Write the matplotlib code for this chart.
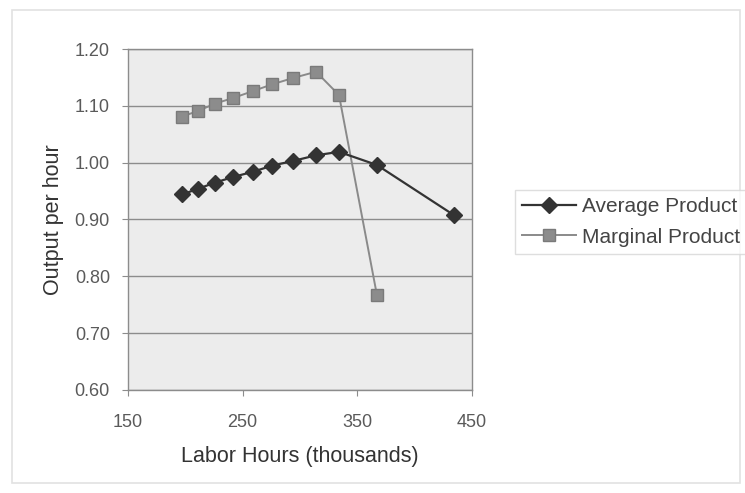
import matplotlib.pyplot as plt
from matplotlib.patches import Rectangle

# labor hours (thousands) and output per hour
hours = [197, 211, 226, 242, 259, 276, 294, 314, 334, 367, 434]
avg_product = [0.944, 0.954, 0.965, 0.975, 0.984, 0.995, 1.003, 1.013, 1.019, 0.996, 0.908]
marg_hours = [197, 211, 226, 242, 259, 276, 294, 314, 334, 367]
marg_product = [1.081, 1.091, 1.104, 1.114, 1.126, 1.138, 1.149, 1.160, 1.119, 0.768]

x_ticks = [150, 250, 350, 450]
y_ticks = [0.60, 0.70, 0.80, 0.90, 1.00, 1.10, 1.20]

plt.rcParams["font.family"] = ["Liberation Sans", "DejaVu Sans"]

fig = plt.figure(figsize=(7.45, 4.93), dpi=100)
fig.patch.set_facecolor("white")
# faint chart border
fig.patches.append(Rectangle((12 / 745, 1 - 483 / 493), 728 / 745, 473 / 493,
                             transform=fig.transFigure, fill=False,
                             edgecolor="#e2e2e2", lw=1.2))

ax = fig.add_axes([128 / 745, 1 - 390 / 493, 344 / 745, 341 / 493])
ax.set_facecolor("#ececec")

ax.plot(hours, avg_product, color="#333333", lw=1.6, marker="D", ms=8.5,
        mfc="#333333", mec="#333333", label="Average Product", zorder=3)
ax.plot(marg_hours, marg_product, color="#8a8a8a", lw=1.4, marker="s", ms=8.5,
        mfc="#8c8c8c", mec="#7a7a7a", label="Marginal Product", zorder=2)

ax.set_xlim(150, 450)
ax.set_ylim(0.60, 1.20)
ax.set_xticks(x_ticks)
ax.set_yticks(y_ticks)
ax.set_yticklabels([f"{v:.2f}" for v in y_ticks])
ax.grid(axis="y", color="#8c8c8c", lw=1)
ax.set_axisbelow(True)
for s in ax.spines.values():
    s.set_color("#8c8c8c")
    s.set_linewidth(1)
ax.tick_params(axis="both", colors="#8c8c8c", labelcolor="#5a5a5a",
               labelsize=13, length=4, direction="out")
ax.tick_params(axis="y", pad=9)
ax.tick_params(axis="x", pad=13)

ax.set_xlabel("Labor Hours (thousands)", fontsize=15.5, color="#333333", labelpad=11)
ax.set_ylabel("Output per hour", fontsize=15.5, color="#333333", labelpad=8)

leg = fig.legend(loc="lower left", bbox_to_anchor=(515 / 745, 1 - 254 / 493),
                 frameon=True, fancybox=False, fontsize=15, borderaxespad=0,
                 handlelength=2.6, handletextpad=0.25, labelspacing=0.55,
                 labelcolor="#444444", borderpad=0.35)
leg.get_frame().set_edgecolor("#d6d6d6")
leg.get_frame().set_linewidth(1)

fig.savefig("out.png", dpi=100)
